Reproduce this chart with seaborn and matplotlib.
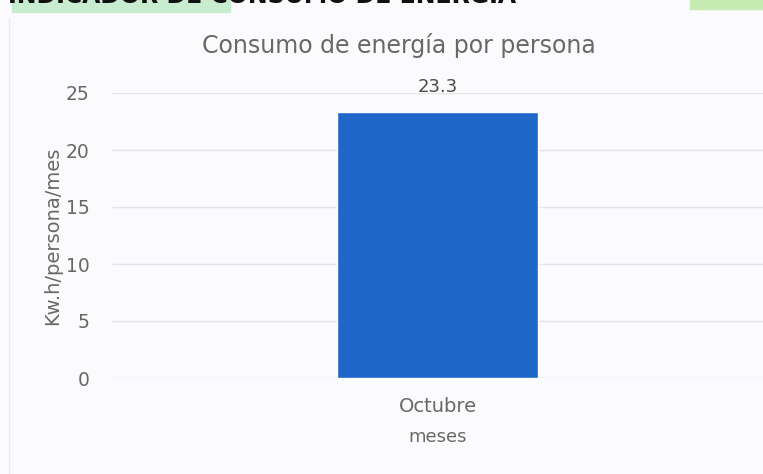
import matplotlib
matplotlib.use("Agg")
import matplotlib.pyplot as plt
import seaborn as sns
import pandas as pd

# data
meses = ["Octubre"]
consumo = [23.3]
yticks = [0, 5, 10, 15, 20, 25]

df = pd.DataFrame({"meses": meses, "consumo": consumo})

sns.set_style("white")
plt.rcParams["font.family"] = ["DejaVu Sans"]

gray = "#686868"
bg = "#fbfafc"

fig = plt.figure(figsize=(7.63, 4.74), dpi=100, facecolor=bg)
ax = fig.add_axes([112 / 763, 1 - 378 / 474, (763 - 112) / 763, (378 - 93) / 474])
ax.set_facecolor(bg)

sns.barplot(data=df, x="meses", y="consumo", color="#1f66c9", width=0.31,
            saturation=1, ax=ax, zorder=3)

ax.set_ylim(0, 25)
ax.set_yticks(yticks)
ax.set_xlim(-0.5, 0.5)
ax.grid(axis="y", color="#e6e6e8", linewidth=1, zorder=0)
for s in ax.spines.values():
    s.set_visible(False)
ax.tick_params(axis="y", length=0, labelsize=13.5, colors=gray, pad=16)
ax.tick_params(axis="x", length=0, labelsize=14, colors=gray, pad=14)

ax.set_ylabel("Kw.h/persona/mes", fontsize=14, color=gray, labelpad=3)
ax.set_xlabel("meses", fontsize=13, color=gray, labelpad=8)

for c in ax.containers:
    ax.bar_label(c, fmt="%.1f", fontsize=13, color="#4a4a4a", padding=12)

fig.text(399 / 763, 1 - 46 / 474, "Consumo de energía por persona", ha="center",
         va="center", fontsize=17, color=gray)

# header remnants at the top of the scan
fig.patches.append(plt.Rectangle((12 / 763, 1 - 12 / 474), 218 / 763, 12 / 474,
                                 transform=fig.transFigure, color="#c8ecd0", zorder=0))
fig.patches.append(plt.Rectangle((690 / 763, 1 - 9 / 474), 73 / 763, 9 / 474,
                                 transform=fig.transFigure, color="#c6ecb4", zorder=0))
fig.text(8 / 763, 1 + 4 / 474, "INDICADOR DE CONSUMO DE ENERGIA", ha="left",
         va="center", fontsize=17, fontweight="bold", color="#111111")
fig.add_artist(plt.Line2D([9 / 763, 9 / 763], [0, 1 - 18 / 474],
                          transform=fig.transFigure, color="#ececee", lw=1))

fig.savefig("out.png", dpi=100, facecolor=bg)
